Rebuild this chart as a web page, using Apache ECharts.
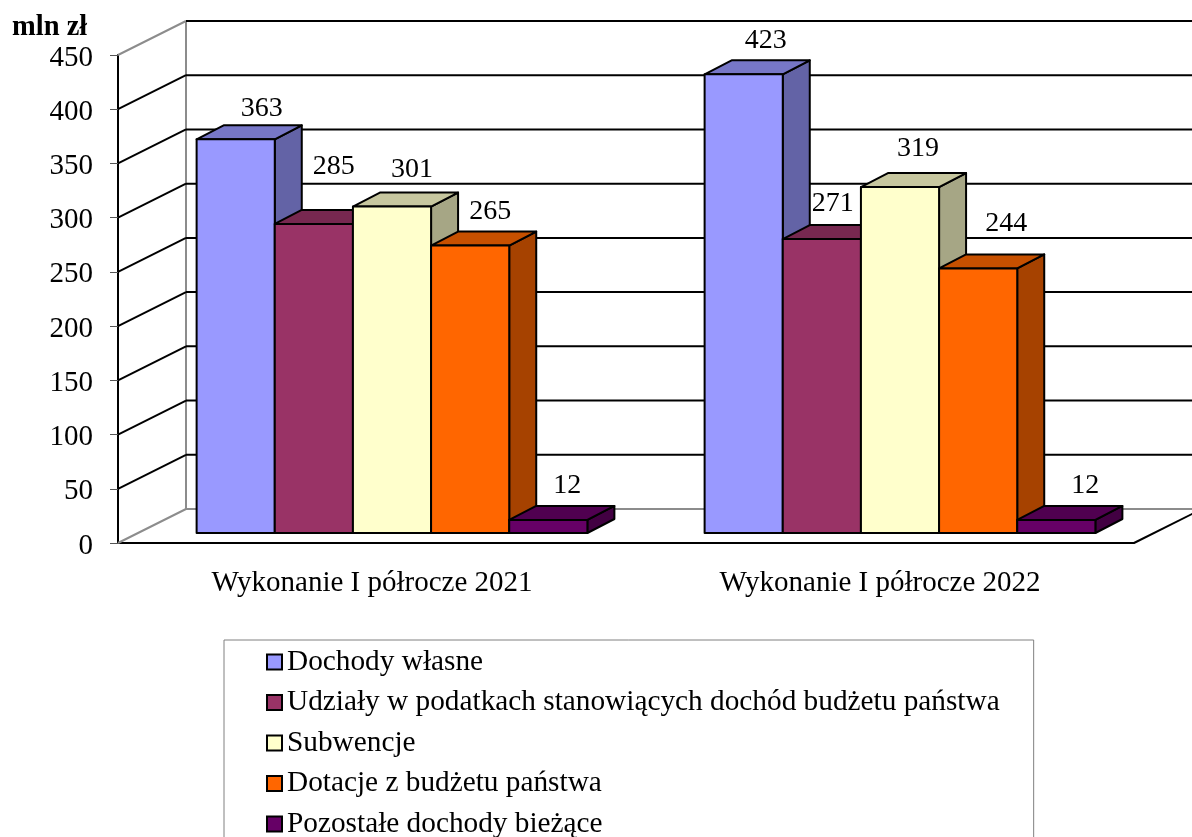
<!DOCTYPE html>
<html>
<head>
<meta charset="utf-8">
<style>html,body{margin:0;padding:0;background:#fff}#chart{width:1192px;height:837px}</style>
<script src="https://cdn.jsdelivr.net/npm/echarts@6/dist/echarts.min.js"></script>
</head>
<body>
<div id="chart"></div>
<script>
var categories = ['Wykonanie I półrocze 2021', 'Wykonanie I półrocze 2022'];
var seriesNames = ['Dochody własne', 'Udziały w podatkach stanowiących dochód budżetu państwa', 'Subwencje', 'Dotacje z budżetu państwa', 'Pozostałe dochody bieżące'];
var dochodyWlasne = [363, 423];
var udzialy = [285, 271];
var subwencje = [301, 319];
var dotacje = [265, 244];
var pozostale = [12, 12];
var yTicks = [0, 50, 100, 150, 200, 250, 300, 350, 400, 450];

var seriesValues = [dochodyWlasne, udzialy, subwencje, dotacje, pozostale];
var seriesColors = ['#9999ff', '#993366', '#ffffcc', '#ff6600', '#660066'];
var fontName = '"Liberation Serif", "Times New Roman", serif';

// glebokosc scian wykresu i slupkow
var wallDx = 68, wallDy = -34;
var barDx = 27, barDy = -14;
// przesuniecie podpisow wzgledem srodka slupka, tak jak w oryginale
var labelShift = [
  [[26, -31], [22, -34]],
  [[20, -57], [11, -35]],
  [[20, -37], [18, -38]],
  [[20, -34], [28, -45]],
  [[19, -34], [29, -34]]
];

var myChart = echarts.init(document.getElementById('chart'));

// przyciemnienie koloru dla scian slupka
function shade(hex, k) {
  var n = parseInt(hex.slice(1), 16);
  var r = Math.round((n >> 16 & 255) * k);
  var g = Math.round((n >> 8 & 255) * k);
  var b = Math.round((n & 255) * k);
  return 'rgb(' + r + ',' + g + ',' + b + ')';
}

function renderWalls(params, api) {
  var cs = params.coordSys;
  var v = api.value(1);
  var y = api.coord([0, v])[1];
  var isFloor = v === 0;
  var isTop = v === yTicks[yTicks.length - 1];
  var sideColor = (isFloor || isTop) ? '#8c8c8c' : '#000';
  var backColor = isFloor ? '#8c8c8c' : '#000';
  var children = [
    { type: 'line', shape: { x1: cs.x, y1: y, x2: cs.x + wallDx, y2: y + wallDy }, style: { stroke: sideColor, lineWidth: 2 } },
    { type: 'line', shape: { x1: cs.x + wallDx, y1: y + wallDy, x2: cs.x + cs.width + wallDx, y2: y + wallDy }, style: { stroke: backColor, lineWidth: 2 } }
  ];
  if (isFloor) {
    children.push({ type: 'line', shape: { x1: cs.x + wallDx, y1: y + wallDy, x2: cs.x + wallDx, y2: cs.y + wallDy }, style: { stroke: '#8c8c8c', lineWidth: 2 } });
    children.push({ type: 'line', shape: { x1: cs.x + cs.width, y1: y, x2: cs.x + cs.width + wallDx, y2: y + wallDy }, style: { stroke: '#000', lineWidth: 2 } });
  }
  return { type: 'group', children: children };
}

function makeBarRenderer(seriesIndex) {
  return function (params, api) {
    var cat = api.value(0);
    var val = api.value(1);
    var band = api.size([1, 0])[0];
    var w = band / 6.5;
    var mid = api.coord([cat, 0])[0] + 20;
    var x = mid - 2.5 * w + seriesIndex * w;
    var bottom = api.coord([cat, 0])[1] - 10;
    var top = api.coord([cat, val])[1] - 10;
    var c = seriesColors[seriesIndex];
    var edge = { stroke: '#000', lineWidth: 2, lineJoin: 'round' };
    var shift = labelShift[seriesIndex][cat];
    return {
      type: 'group',
      children: [
        { type: 'polygon', shape: { points: [[x + w, top], [x + w + barDx, top + barDy], [x + w + barDx, bottom + barDy], [x + w, bottom]] },
          style: Object.assign({ fill: shade(c, 0.65) }, edge) },
        { type: 'polygon', shape: { points: [[x, top], [x + barDx, top + barDy], [x + w + barDx, top + barDy], [x + w, top]] },
          style: Object.assign({ fill: shade(c, 0.78) }, edge) },
        { type: 'rect', shape: { x: x, y: top, width: w, height: bottom - top },
          style: Object.assign({ fill: c }, edge) },
        { type: 'text', z2: 50, style: { text: String(val), x: x + w / 2 + shift[0], y: top + shift[1], align: 'center', verticalAlign: 'middle', fill: '#000', font: '28px ' + fontName } }
      ]
    };
  };
}

var series = [{
  type: 'custom',
  name: 'walls',
  silent: true,
  renderItem: renderWalls,
  encode: { x: 0, y: 1 },
  data: yTicks.map(function (t) { return [0, t]; })
}];
for (var i = 0; i < seriesNames.length; i++) {
  series.push({
    type: 'custom',
    name: seriesNames[i],
    itemStyle: { color: seriesColors[i] },
    renderItem: makeBarRenderer(i),
    encode: { x: 0, y: 1 },
    data: seriesValues[i].map(function (v, k) { return [k, v]; })
  });
}

myChart.setOption({
  animation: false,
  title: {
    text: 'mln zł',
    left: 12,
    top: 13,
    padding: 0,
    textStyle: { fontFamily: fontName, fontSize: 28.5, fontWeight: 'bold', color: '#000' }
  },
  grid: { left: 118, top: 55, width: 1016, height: 488 },
  legend: {
    data: seriesNames.map(function (n) { return { name: n, icon: 'rect' }; }),
    orient: 'vertical',
    left: 224,
    top: 640,
    height: 400,
    align: 'left',
    padding: [7, 34, 30, 42],
    itemWidth: 15,
    itemHeight: 15,
    itemGap: 10.5,
    backgroundColor: '#fff',
    borderColor: '#808080',
    borderWidth: 1,
    borderRadius: 0,
    selectedMode: false,
    itemStyle: { borderColor: '#000', borderWidth: 2 },
    textStyle: { fontFamily: fontName, fontSize: 29.3, color: '#000', lineHeight: 30 }
  },
  xAxis: {
    type: 'category',
    data: categories,
    axisLine: { lineStyle: { color: '#000', width: 2 } },
    axisTick: { length: 8, lineStyle: { color: '#333', width: 1 } },
    axisLabel: { fontFamily: fontName, fontSize: 29, color: '#000', margin: 26 }
  },
  yAxis: {
    type: 'value',
    min: 0,
    max: 450,
    interval: 50,
    axisLine: { show: true, lineStyle: { color: '#000', width: 2 } },
    axisTick: { show: true, length: 8, lineStyle: { color: '#555', width: 1 } },
    axisLabel: {
      margin: 25,
      formatter: '{a|{value}}',
      rich: { a: { fontFamily: fontName, fontSize: 29, color: '#000', padding: [6, 0, 0, 0] } }
    },
    splitLine: { show: false }
  },
  series: series
});
</script>
</body>
</html>
